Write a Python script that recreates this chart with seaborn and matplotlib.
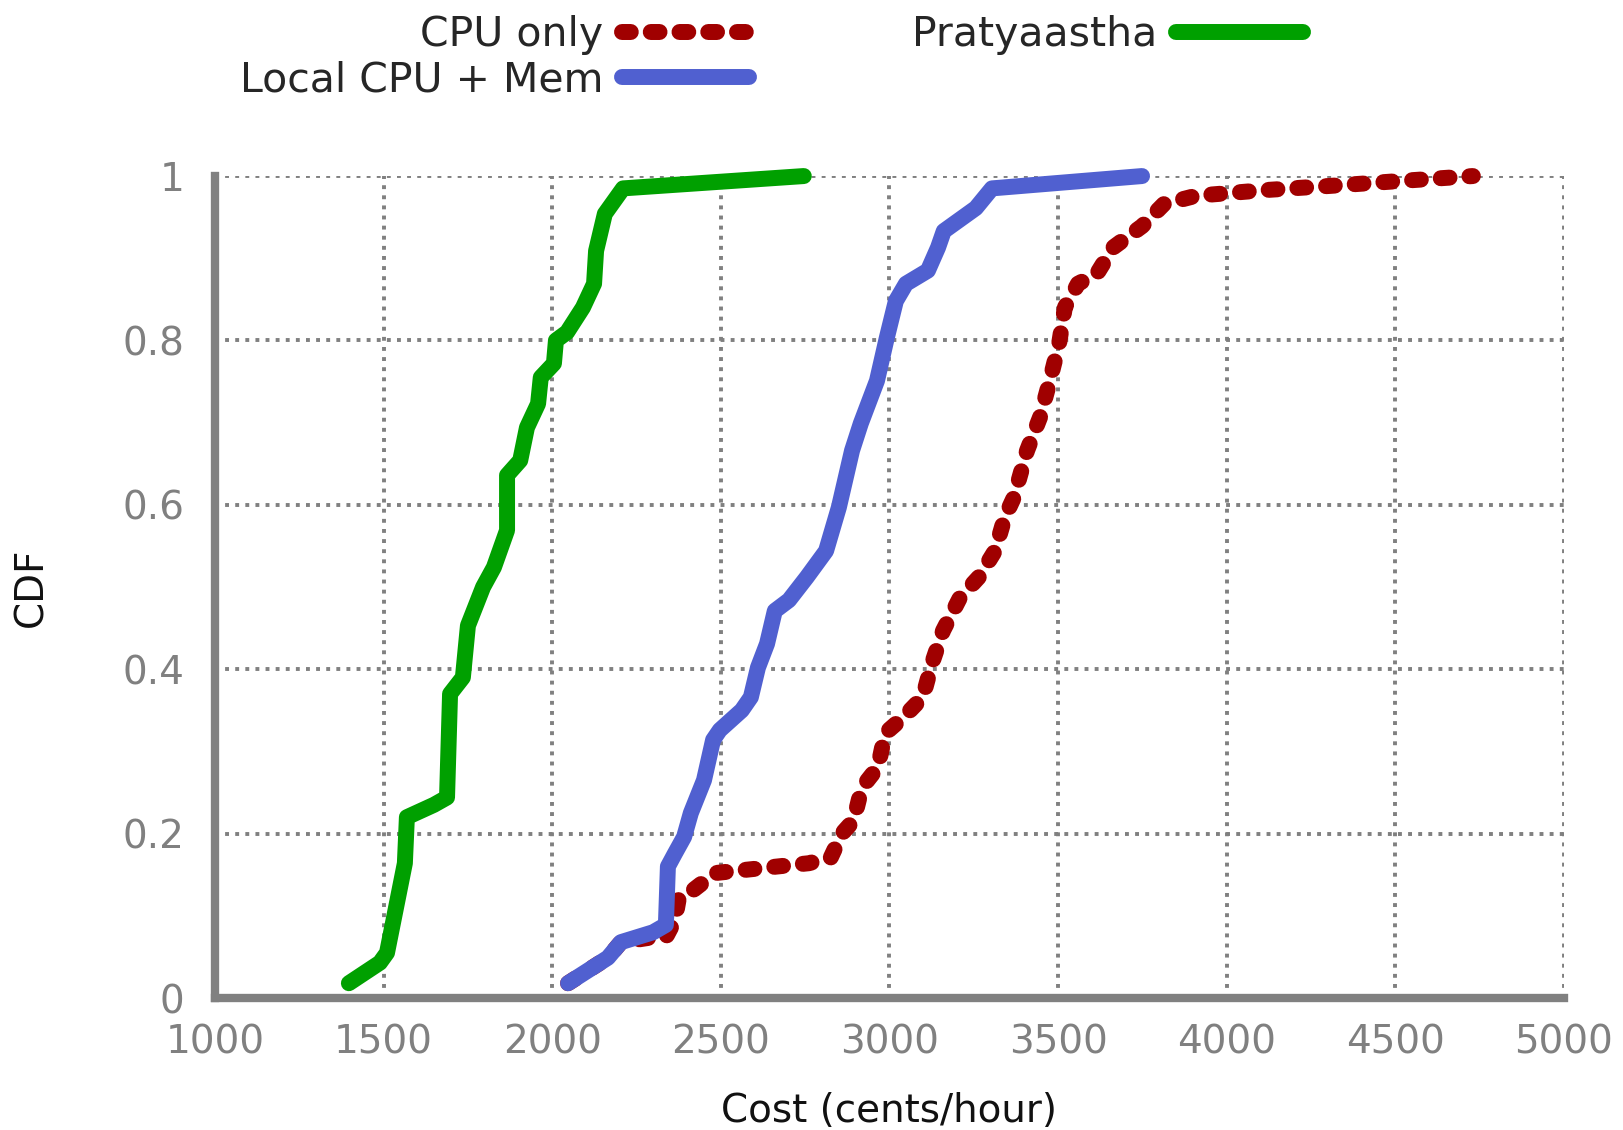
import numpy as np
import pandas as pd
import matplotlib
matplotlib.use('Agg')
import matplotlib.pyplot as plt
import seaborn as sns

# CDF curves
cpu_x = [2047, 2165, 2204, 2299, 2337, 2364, 2376, 2417, 2483, 2574, 2761, 2826,
         2859, 2894, 2918, 2966, 2987, 3040, 3099, 3126, 3159, 3209, 3265, 3313,
         3342, 3369, 3408, 3446, 3473, 3503, 3520, 3559, 3615, 3663, 3749, 3814,
         3909, 4116, 4306, 4514, 4730]
cpu_y = [0.018, 0.049, 0.068, 0.074, 0.074, 0.095, 0.123, 0.131, 0.152, 0.156,
         0.164, 0.171, 0.2, 0.216, 0.256, 0.281, 0.322, 0.341, 0.366, 0.407,
         0.447, 0.487, 0.512, 0.544, 0.585, 0.609, 0.666, 0.706, 0.747, 0.796,
         0.84, 0.869, 0.881, 0.913, 0.939, 0.966, 0.976, 0.983, 0.988, 0.994, 1.0]

mem_x = [2047, 2165, 2204, 2299, 2337, 2343, 2364, 2391, 2411, 2450, 2477, 2497,
         2562, 2589, 2610, 2637, 2660, 2702, 2755, 2812, 2850, 2889, 2915, 2963,
         2992, 3019, 3049, 3114, 3144, 3161, 3256, 3304, 3749]
mem_y = [0.018, 0.049, 0.068, 0.08, 0.089, 0.16, 0.176, 0.196, 0.225, 0.265,
         0.314, 0.326, 0.35, 0.366, 0.402, 0.431, 0.471, 0.484, 0.512, 0.544,
         0.597, 0.666, 0.699, 0.751, 0.803, 0.848, 0.869, 0.885, 0.913, 0.933,
         0.961, 0.985, 1.0]

prat_x = [1397, 1489, 1510, 1563, 1569, 1649, 1688, 1697, 1735, 1750, 1795, 1827,
          1866, 1866, 1905, 1925, 1958, 1966, 2005, 2011, 2044, 2091, 2124, 2130,
          2156, 2210, 2746]
prat_y = [0.018, 0.043, 0.055, 0.164, 0.22, 0.235, 0.244, 0.37, 0.39, 0.453,
          0.50, 0.524, 0.569, 0.636, 0.654, 0.694, 0.723, 0.755, 0.772, 0.80,
          0.81, 0.84, 0.869, 0.909, 0.954, 0.985, 1.0]

labels = ['CPU only', 'Local CPU + Mem', 'Pratyaastha']
colors = ['#a00000', '#5060d0', '#00a000']
x_ticks = [1000, 1500, 2000, 2500, 3000, 3500, 4000, 4500, 5000]
y_ticks = [0, 0.2, 0.4, 0.6, 0.8, 1]

sns.set_style('white')
plt.rcParams['font.family'] = ['DejaVu Sans']

fig = plt.figure(figsize=(16.24, 11.30), dpi=100)
ax = fig.add_axes([0.1324, 0.1168, 0.8306, 0.7274])

series = [(cpu_x, cpu_y), (mem_x, mem_y), (prat_x, prat_y)]
for (xs, ys), lab, col in zip(series, labels, colors):
    df = pd.DataFrame({'x': xs, 'y': ys})
    sns.lineplot(data=df, x='x', y='y', ax=ax, color=col, linewidth=11.5,
                 sort=False, estimator=None, label=lab, clip_on=False)

lines = ax.get_lines()
for ln in lines:
    ln.set_solid_capstyle('round')
    ln.set_dash_capstyle('round')
    ln.set_solid_joinstyle('round')
    ln.set_dash_joinstyle('round')
lines[0].set_dashes((0.55, 1.25))

ax.set_xlim(1000, 5000)
ax.set_ylim(0, 1)
ax.set_xticks(x_ticks)
ax.set_yticks(y_ticks)
ax.set_yticklabels(['0', '0.2', '0.4', '0.6', '0.8', '1'])

ax.grid(True, color='#808080', linestyle=(0, (1, 1.6)), linewidth=2.8)
for s in ['top', 'right']:
    ax.spines[s].set_visible(False)
for s in ['left', 'bottom']:
    ax.spines[s].set_color('#808080')
    ax.spines[s].set_linewidth(6)
ax.tick_params(direction='in', length=16, width=4, color='#808080',
               labelcolor='#808080', labelsize=28)
ax.tick_params(axis='x', pad=18)
ax.tick_params(axis='y', pad=22)

ax.set_xlabel('Cost (cents/hour)', fontsize=28, color='#111111', labelpad=22)
ax.set_ylabel('CDF', fontsize=28, color='#111111', labelpad=52)

ax.get_legend().remove()
handles, labs = ax.get_legend_handles_labels()
fig.legend(handles, labs, loc='upper center', bbox_to_anchor=(0.475, 0.99),
           ncol=2, frameon=False, fontsize=29.5, markerfirst=False,
           handlelength=3.1, handletextpad=0.45, columnspacing=4.0,
           labelspacing=0.12, borderpad=0.1, borderaxespad=0)

fig.savefig('out.png', dpi=100)
